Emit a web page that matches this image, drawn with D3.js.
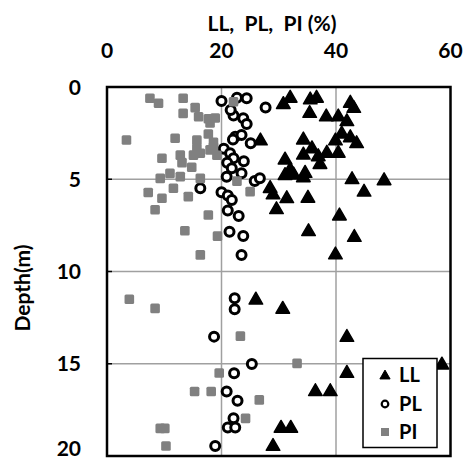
<!DOCTYPE html>
<html><head><meta charset="utf-8">
<script src="https://cdn.jsdelivr.net/npm/d3@7"></script>
<style>body{margin:0;background:#fff;} text{font-family:Lato,"Open Sans",sans-serif;font-weight:bold;fill:#000;}</style>
</head><body>
<script>
// [value %, depth m]
const llData = [[32.0,0.61],[30.8,0.95],[35.5,0.70],[36.6,0.61],[35.4,1.43],[38.3,1.62],[40.4,1.62],[41.9,1.88],[42.5,0.88],[43.1,1.16],[41.0,2.55],[39.9,2.92],[42.5,2.75],[43.6,3.07],[34.3,2.87],[26.8,2.92],[35.8,3.35],[34.3,3.69],[36.9,3.78],[38.4,3.59],[40.4,3.59],[37.2,4.2],[31.1,3.96],[32.0,4.5],[31.1,4.8],[32.6,4.77],[34.6,4.68],[34.3,4.92],[42.8,5.02],[48.4,5.08],[44.9,5.7],[28.5,5.5],[29.0,5.85],[31.4,6.05],[35.1,6.03],[29.6,6.65],[40.6,6.99],[35.2,7.84],[43.2,8.15],[39.9,9.1],[26.0,11.55],[30.7,12.05],[41.9,13.57],[58.5,15.07],[41.9,15.52],[36.4,16.51],[39.0,16.51],[30.4,18.5],[32.1,18.5],[29.0,19.48]];
const plData = [[20.0,0.76],[22.7,0.58],[24.4,0.61],[27.7,1.11],[22.1,1.55],[21.6,1.25],[23.8,1.70],[24.4,2.0],[22.4,2.69],[22.0,2.85],[23.5,2.6],[25.1,3.05],[20.4,3.35],[21.5,3.59],[22.1,3.86],[21.0,4.1],[23.9,4.02],[21.8,4.41],[23.5,4.68],[20.9,4.86],[25.8,5.1],[26.7,4.95],[16.3,5.49],[20.0,5.7],[21.1,5.88],[21.8,6.12],[21.1,6.7],[23.0,6.99],[21.4,7.84],[23.8,8.08],[23.5,9.1],[22.3,11.45],[22.3,12.05],[18.7,13.53],[25.3,15.01],[22.2,15.52],[20.9,16.51],[22.8,17.0],[22.1,17.96],[21.1,18.46],[22.4,18.46],[18.9,19.46]];
const piData = [[7.5,0.61],[9.0,0.88],[13.3,0.61],[13.3,1.43],[15.4,1.12],[16.0,1.61],[17.7,1.72],[18.9,1.68],[18.0,1.95],[22.1,0.80],[3.4,2.87],[11.9,2.78],[15.7,2.87],[17.7,2.55],[18.6,3.0],[18.6,3.25],[15.7,3.32],[18.0,3.41],[9.6,3.86],[12.8,3.69],[15.1,3.69],[16.3,3.59],[19.2,3.7],[13.1,4.1],[14.8,4.35],[9.3,4.95],[11.0,4.68],[12.8,4.86],[16.3,4.95],[22.7,5.1],[25.0,5.67],[7.2,5.72],[11.6,5.49],[9.6,6.03],[14.2,5.94],[8.4,6.65],[17.7,6.94],[13.6,7.79],[19.3,8.08],[16.3,9.1],[3.9,11.5],[8.4,12.0],[23.3,13.5],[33.2,14.98],[19.6,15.5],[15.3,16.5],[18.2,16.5],[26.6,16.96],[24.2,17.96],[9.3,18.5],[10.1,18.5],[10.3,19.46]];
const xTicks = [0,20,40,60];
const yTicks = [0,5,10,15,20];
const legendItems = ["LL","PL","PI"];

const W=464,H=462;
const svg=d3.select("body").append("svg").attr("width",W).attr("height",H);
const x=d3.scaleLinear().domain([0,60]).range([107,450.5]);
const y=d3.scaleLinear().domain([0,20]).range([87,456]);

// grid
svg.append("g").selectAll("line.gx").data(xTicks.slice(1,-1)).join("line")
  .attr("x1",d=>x(d)).attr("x2",d=>x(d)).attr("y1",y(0)).attr("y2",y(20))
  .attr("stroke","#a0a0a0").attr("stroke-width",1.5);
svg.append("g").selectAll("line.gy").data(yTicks.slice(1,-1)).join("line")
  .attr("x1",x(0)).attr("x2",x(60)).attr("y1",d=>y(d)).attr("y2",d=>y(d))
  .attr("stroke","#a0a0a0").attr("stroke-width",1.5);
// inner ticks
svg.append("g").selectAll("line").data(yTicks.slice(1,-1)).join("line")
  .attr("x1",x(0)).attr("x2",x(0)+5).attr("y1",d=>y(d)).attr("y2",d=>y(d))
  .attr("stroke","#000").attr("stroke-width",1.5);

// axes labels
svg.append("g").selectAll("text").data(xTicks).join("text")
  .attr("x",d=>x(d)).attr("y",58).attr("text-anchor","middle").attr("font-size",21).text(d=>d);
svg.append("g").selectAll("text").data(yTicks).join("text")
  .attr("x",81).attr("y",d=>Math.min(y(d)+7.5,456)).attr("text-anchor","end").attr("font-size",21).text(d=>d);
svg.append("text").attr("x",272).attr("y",31).attr("text-anchor","middle").attr("font-size",21)
  .style("white-space","pre").text("LL,  PL,  PI (%)");
svg.append("text").attr("transform","translate(30,288) rotate(-90)").attr("text-anchor","middle")
  .attr("font-size",21).text("Depth(m)");

const tri = d3.symbol().type(d3.symbolTriangle).size(80);
const g=svg.append("g");
g.selectAll("path.ll").data(llData).join("path")
  .attr("d",tri).attr("transform",d=>`translate(${x(d[0])},${y(d[1])})`)
  .attr("fill","#000").attr("stroke","#000").attr("stroke-width",1.5).attr("stroke-linejoin","round");
g.selectAll("circle.pl").data(plData).join("circle")
  .attr("cx",d=>x(d[0])).attr("cy",d=>y(d[1])).attr("r",4.5)
  .attr("fill","#fff").attr("stroke","#000").attr("stroke-width",3);
g.selectAll("rect.pi").data(piData).join("rect")
  .attr("x",d=>x(d[0])-4.8).attr("y",d=>y(d[1])-4.8).attr("width",9.6).attr("height",9.6).attr("rx",1.5)
  .attr("fill","#808080");

// frame
svg.append("rect").attr("x",x(0)).attr("y",y(0)).attr("width",x(60)-x(0)).attr("height",y(20)-y(0))
  .attr("fill","none").attr("stroke","#000").attr("stroke-width",2.5);

// legend
const lg=svg.append("g");
lg.append("rect").attr("x",363).attr("y",358.5).attr("width",74).attr("height",89)
  .attr("fill","#fff").attr("stroke","#000").attr("stroke-width",1.5);
const ly=[375,404,432];
lg.append("path").attr("d",d3.symbol().type(d3.symbolTriangle).size(45)).attr("transform",`translate(385,${ly[0]+1})`)
  .attr("fill","#000").attr("stroke","#000").attr("stroke-width",1).attr("stroke-linejoin","round");
lg.append("circle").attr("cx",385).attr("cy",ly[1]).attr("r",3.3).attr("fill","#fff").attr("stroke","#000").attr("stroke-width",2.2);
lg.append("rect").attr("x",381).attr("y",ly[2]-4).attr("width",8).attr("height",8).attr("fill","#808080");
lg.selectAll("text").data(legendItems).join("text")
  .attr("x",399).attr("y",(d,i)=>ly[i]+7).attr("font-size",20).text(d=>d);
</script>
</body></html>
